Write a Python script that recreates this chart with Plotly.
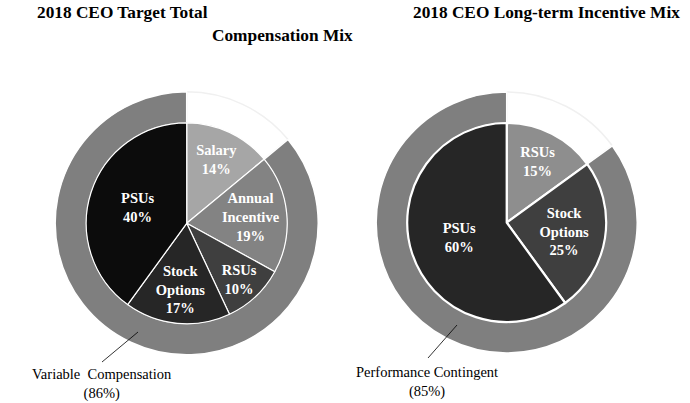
import plotly.graph_objects as go

# ---- data ----
tc_labels = ["Salary", "Annual<br>Incentive", "RSUs", "Stock<br>Options", "PSUs"]
tc_values = [14, 19, 10, 17, 40]
tc_colors = ["#a6a6a6", "#838383", "#3f3f3f", "#262626", "#0c0c0c"]

tc_ring_labels = ["Fixed", "Variable Compensation"]
tc_ring_values = [14, 86]

lti_labels = ["RSUs", "Stock<br>Options", "PSUs"]
lti_values = [15, 25, 60]
lti_colors = ["#8e8e8e", "#3f3f3f", "#262626"]

lti_ring_labels = ["Time-based", "Performance Contingent"]
lti_ring_values = [15, 85]

ring_colors = ["#ffffff", "#7f7f7f"]
ring_lines = ["#f0f0f0", "#ffffff"]

W, H = 690, 403
SERIF = "Liberation Serif, Times New Roman, serif"


def dom(cx, cy, r):
    return dict(x=[(cx - r) / W, (cx + r) / W], y=[1 - (cy + r) / H, 1 - (cy - r) / H])


fig = go.Figure()

# left chart
fig.add_trace(go.Pie(
    labels=tc_ring_labels, values=tc_ring_values, hole=0.76, sort=False,
    direction="clockwise", rotation=0, domain=dom(186.7, 223.3, 131.5),
    marker=dict(colors=ring_colors, line=dict(color=ring_lines, width=1.5)),
    textinfo="none", hoverinfo="label+percent", showlegend=False))
fig.add_trace(go.Pie(
    labels=tc_labels, values=tc_values, sort=False, direction="clockwise", rotation=0,
    domain=dom(186.7, 223.3, 100.5),
    marker=dict(colors=tc_colors, line=dict(color="#ffffff", width=1.2)),
    text=[f"<b>{l}<br>{v}%</b>" for l, v in zip(tc_labels, tc_values)],
    textinfo="text", textposition="inside", insidetextorientation="horizontal",
    textfont=dict(family=SERIF, size=14.5, color="#ffffff"),
    hoverinfo="label+percent", showlegend=False))

# right chart
fig.add_trace(go.Pie(
    labels=lti_ring_labels, values=lti_ring_values, hole=0.76, sort=False,
    direction="clockwise", rotation=0, domain=dom(506.7, 222.5, 130.5),
    marker=dict(colors=ring_colors, line=dict(color=ring_lines, width=1.5)),
    textinfo="none", hoverinfo="label+percent", showlegend=False))
fig.add_trace(go.Pie(
    labels=lti_labels, values=lti_values, sort=False, direction="clockwise", rotation=0,
    domain=dom(506.7, 222.5, 99.5),
    marker=dict(colors=lti_colors, line=dict(color="#ffffff", width=2.2)),
    text=[f"<b>{l}<br>{v}%</b>" for l, v in zip(lti_labels, lti_values)],
    textinfo="text", textposition="inside", insidetextorientation="horizontal",
    textfont=dict(family=SERIF, size=14.5, color="#ffffff"),
    hoverinfo="label+percent", showlegend=False))

title_font = dict(family=SERIF, size=17.3, color="#000000")
note_font = dict(family=SERIF, size=14.5, color="#000000")

annotations = [
    dict(text="<b>2018 CEO Target Total</b>", x=122.5 / W, y=1 - 12.7 / H, font=title_font),
    dict(text="<b>Compensation Mix</b>", x=282 / W, y=1 - 35 / H, font=title_font),
    dict(text="<b>2018 CEO Long-term Incentive Mix</b>", x=546 / W, y=1 - 12.7 / H, font=title_font),
    dict(text=f"Variable  Compensation<br>({tc_ring_values[1]}%)", x=102 / W, y=1 - 384 / H,
         font=note_font),
    dict(text=f"Performance Contingent<br>({lti_ring_values[1]}%)", x=427 / W, y=1 - 382 / H,
         font=note_font),
]
for a in annotations:
    a.update(xref="paper", yref="paper", showarrow=False, xanchor="center", yanchor="middle")

shapes = [
    dict(type="line", xref="paper", yref="paper", x0=138 / W, y0=1 - 332 / H, x1=102 / W, y1=1 - 362 / H,
         line=dict(color="#000000", width=0.8)),
    dict(type="line", xref="paper", yref="paper", x0=457 / W, y0=1 - 325 / H, x1=428 / W, y1=1 - 358 / H,
         line=dict(color="#000000", width=0.8)),
]

fig.update_layout(
    width=W, height=H, margin=dict(l=0, r=0, t=0, b=0),
    paper_bgcolor="#ffffff", plot_bgcolor="#ffffff",
    uniformtext=dict(minsize=14.5, mode="show"),
    annotations=annotations, shapes=shapes, showlegend=False)

fig.write_html("out.html", config={"displayModeBar": False},
               post_script="document.body.style.margin='0';document.body.style.overflow='hidden';")
